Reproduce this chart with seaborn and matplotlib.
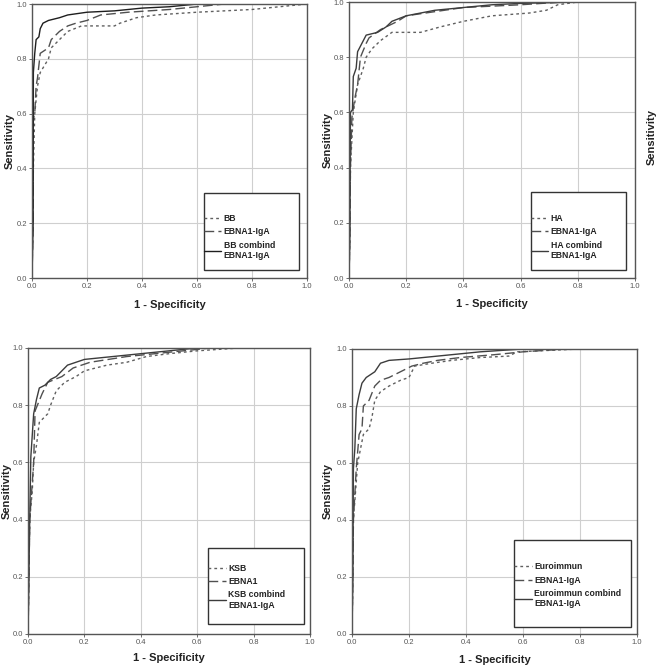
"""Quatro curvas ROC (estilo SPSS) comparando os ensaios com EBNA1-IgA."""
import numpy as np
import pandas as pd
import seaborn as sns
import matplotlib.pyplot as plt
from matplotlib.lines import Line2D
from matplotlib.patches import Rectangle

# ---- dados (1 - especificidade, sensibilidade) ----
# painel 1: BB
bb_fpr = [0, 0.003, 0.005, 0.01, 0.02, 0.03, 0.06, 0.07, 0.1, 0.13, 0.18, 0.3, 0.32, 0.38, 0.45, 0.6, 0.8, 0.9, 1.0]
bb_tpr = [0, 0.2, 0.4, 0.6, 0.7, 0.75, 0.8, 0.84, 0.87, 0.9, 0.92, 0.92, 0.93, 0.95, 0.96, 0.97, 0.98, 0.99, 1.0]
bb_ebna_fpr = [0, 0.004, 0.005, 0.01, 0.015, 0.02, 0.03, 0.06, 0.07, 0.1, 0.13, 0.16, 0.2, 0.25, 0.35, 0.5, 0.6, 0.7, 1.0]
bb_ebna_tpr = [0, 0.2, 0.58, 0.6, 0.7, 0.73, 0.82, 0.84, 0.87, 0.9, 0.92, 0.93, 0.94, 0.96, 0.97, 0.98, 0.99, 1.0, 1.0]
bb_comb_fpr = [0, 0.004, 0.005, 0.01, 0.015, 0.025, 0.03, 0.04, 0.06, 0.1, 0.13, 0.2, 0.3, 0.4, 0.5, 0.6, 1.0]
bb_comb_tpr = [0, 0.2, 0.75, 0.82, 0.87, 0.88, 0.91, 0.93, 0.94, 0.95, 0.96, 0.97, 0.975, 0.985, 0.99, 1.0, 1.0]

# painel 2: HA
ha_fpr = [0, 0.003, 0.005, 0.015, 0.03, 0.05, 0.06, 0.08, 0.11, 0.15, 0.25, 0.32, 0.4, 0.5, 0.63, 0.69, 0.73, 0.8, 1.0]
ha_tpr = [0, 0.15, 0.4, 0.6, 0.7, 0.76, 0.8, 0.83, 0.86, 0.89, 0.89, 0.91, 0.93, 0.95, 0.96, 0.97, 0.99, 1.0, 1.0]
ha_ebna_fpr = [0, 0.003, 0.005, 0.01, 0.02, 0.03, 0.035, 0.04, 0.06, 0.07, 0.11, 0.17, 0.2, 0.3, 0.4, 0.5, 0.6, 0.75, 1.0]
ha_ebna_tpr = [0, 0.15, 0.4, 0.58, 0.65, 0.7, 0.75, 0.8, 0.85, 0.87, 0.9, 0.93, 0.95, 0.965, 0.98, 0.985, 0.99, 1.0, 1.0]
ha_comb_fpr = [0, 0.003, 0.005, 0.012, 0.015, 0.025, 0.03, 0.05, 0.06, 0.1, 0.13, 0.15, 0.2, 0.25, 0.3, 0.4, 0.5, 0.6, 0.8, 1.0]
ha_comb_tpr = [0, 0.15, 0.6, 0.61, 0.73, 0.76, 0.82, 0.86, 0.88, 0.89, 0.91, 0.93, 0.95, 0.96, 0.97, 0.98, 0.99, 0.995, 1.0, 1.0]

# painel 3: KSB
ksb_fpr = [0, 0.003, 0.006, 0.015, 0.02, 0.03, 0.04, 0.07, 0.08, 0.1, 0.13, 0.17, 0.2, 0.28, 0.35, 0.42, 0.5, 0.6, 0.75, 1.0]
ksb_tpr = [0, 0.19, 0.4, 0.5, 0.6, 0.66, 0.74, 0.77, 0.8, 0.85, 0.88, 0.9, 0.92, 0.94, 0.95, 0.97, 0.98, 0.99, 1.0, 1.0]
ksb_ebna_fpr = [0, 0.003, 0.006, 0.02, 0.025, 0.05, 0.07, 0.12, 0.16, 0.22, 0.35, 0.45, 0.55, 0.65, 1.0]
ksb_ebna_tpr = [0, 0.19, 0.4, 0.6, 0.78, 0.84, 0.88, 0.9, 0.93, 0.95, 0.97, 0.98, 0.99, 1.0, 1.0]
ksb_comb_fpr = [0, 0.003, 0.006, 0.01, 0.02, 0.03, 0.04, 0.06, 0.08, 0.1, 0.12, 0.14, 0.2, 0.3, 0.4, 0.5, 0.6, 1.0]
ksb_comb_tpr = [0, 0.19, 0.4, 0.62, 0.77, 0.82, 0.86, 0.87, 0.89, 0.9, 0.92, 0.94, 0.96, 0.97, 0.98, 0.99, 1.0, 1.0]

# painel 4: Euroimmun
eu_fpr = [0, 0.003, 0.005, 0.02, 0.04, 0.06, 0.07, 0.08, 0.1, 0.13, 0.17, 0.2, 0.22, 0.28, 0.35, 0.45, 0.55, 0.58, 0.8, 0.87]
eu_tpr = [0, 0.2, 0.4, 0.6, 0.7, 0.72, 0.76, 0.82, 0.85, 0.87, 0.89, 0.9, 0.94, 0.95, 0.96, 0.97, 0.975, 0.99, 1.0, 1.0]
eu_ebna_fpr = [0, 0.003, 0.005, 0.015, 0.025, 0.035, 0.04, 0.06, 0.08, 0.1, 0.13, 0.17, 0.21, 0.25, 0.3, 0.38, 0.5, 0.6, 0.75, 0.78]
eu_ebna_tpr = [0, 0.2, 0.4, 0.58, 0.7, 0.72, 0.8, 0.82, 0.87, 0.89, 0.9, 0.92, 0.94, 0.95, 0.96, 0.97, 0.98, 0.99, 1.0, 1.0]
eu_comb_fpr = [0, 0.003, 0.005, 0.01, 0.015, 0.025, 0.035, 0.05, 0.08, 0.1, 0.13, 0.2, 0.25, 0.35, 0.45, 0.6, 0.78]
eu_comb_tpr = [0, 0.2, 0.58, 0.65, 0.79, 0.84, 0.88, 0.9, 0.92, 0.95, 0.96, 0.965, 0.97, 0.98, 0.99, 1.0, 1.0]

panels = [
    {"pos": [0.0484, 0.5832, 0.416, 0.4108], "box": (0.625, 0.03, 0.345, 0.28), "leg_y": 0.065,
     "labels": ["BB", "EBNA1-IgA", "BB combind\nEBNA1-IgA"], "solid": "#1e1e1e",
     "curves": [(bb_fpr, bb_tpr), (bb_ebna_fpr, bb_ebna_tpr), (bb_comb_fpr, bb_comb_tpr)],
     "ylab": -0.08, "xlab": -0.098},
    {"pos": [0.528, 0.5832, 0.4327, 0.4138], "box": (0.636, 0.03, 0.334, 0.28), "leg_y": 0.065,
     "labels": ["HA", "EBNA1-IgA", "HA combind\nEBNA1-IgA"], "solid": "#3c3c3c",
     "curves": [(ha_fpr, ha_tpr), (ha_ebna_fpr, ha_ebna_tpr), (ha_comb_fpr, ha_comb_tpr)],
     "ylab": -0.073, "xlab": -0.094},
    {"pos": [0.0424, 0.0495, 0.4266, 0.4288], "box": (0.64, 0.035, 0.34, 0.265), "leg_y": 0.085,
     "labels": ["KSB", "EBNA1", "KSB combind\nEBNA1-IgA"], "solid": "#3c3c3c",
     "curves": [(ksb_fpr, ksb_tpr), (ksb_ebna_fpr, ksb_ebna_tpr), (ksb_comb_fpr, ksb_comb_tpr)],
     "ylab": -0.075, "xlab": -0.084},
    {"pos": [0.5325, 0.0495, 0.4312, 0.4273], "box": (0.57, 0.025, 0.41, 0.305), "leg_y": 0.09,
     "labels": ["Euroimmun", "EBNA1-IgA", "Euroimmun combind\nEBNA1-IgA"], "solid": "#3c3c3c",
     "curves": [(eu_fpr, eu_tpr), (eu_ebna_fpr, eu_ebna_tpr), (eu_comb_fpr, eu_comb_tpr)],
     "ylab": -0.084, "xlab": -0.091},
]

sns.set_style("white")
plt.rcParams['font.family'] = ['Liberation Sans', 'DejaVu Sans']

fig = plt.figure(figsize=(6.61, 6.67), dpi=100)

estilos = [(0, (2, 2.2)), (0, (7, 3)), "-"]

for p in panels:
    ax = fig.add_axes(p["pos"])
    cores = ["#606060", "#505050", p["solid"]]
    for (fx, ty), ls, cor in zip(p["curves"], estilos, cores):
        df = pd.DataFrame({"fpr": fx, "tpr": ty})
        sns.lineplot(data=df, x="fpr", y="tpr", ax=ax, sort=False, estimator=None,
                     color=cor, linestyle=ls, linewidth=1.0)
    ax.set_xlim(0, 1)
    ax.set_ylim(0, 1)
    ticks = np.arange(0, 1.01, 0.2)
    ax.set_xticks(ticks)
    ax.set_yticks(ticks)
    ax.set_xticklabels([f"{t:.1f}" for t in ticks])
    ax.set_yticklabels([f"{t:.1f}" for t in ticks])
    ax.tick_params(labelsize=5.5, labelcolor="#555555", length=2, width=0.6,
                   color="#555555", pad=1.5, bottom=True, left=True)
    ax.grid(True, color="#cfcfcf", linewidth=0.8)
    ax.set_axisbelow(True)
    for s in ax.spines.values():
        s.set_color("#555555")
        s.set_linewidth(1.0)
    ax.set_xlabel("1 - Specificity", fontsize=8, fontweight="bold", color="#222222")
    ax.set_ylabel("Sensitivity", fontsize=8, fontweight="bold", color="#222222")
    ax.xaxis.set_label_coords(0.5, p["xlab"])
    ax.yaxis.set_label_coords(p["ylab"], 0.5)
    ax.xaxis.label.set_va("center")
    ax.yaxis.label.set_va("center")

    # caixa da legenda (estilo SPSS)
    bx, by, bw, bh = p["box"]
    ax.add_patch(Rectangle((bx, by), bw, bh, transform=ax.transAxes, fill=True,
                           facecolor="white", edgecolor="#333333", linewidth=1.0, zorder=5))
    handles = [Line2D([], [], color=c, linestyle=ls, linewidth=1.0) for c, ls in zip(cores, estilos)]
    leg = ax.legend(handles, p["labels"], loc="lower left", bbox_to_anchor=(bx, p["leg_y"]),
                    frameon=False, prop={"weight": "bold", "size": 6.2}, handlelength=2.0,
                    handletextpad=0.3, labelspacing=0.5, borderpad=0, borderaxespad=0)
    leg.set_zorder(6)
    for t in leg.get_texts():
        t.set_color("#222222")

# rótulo cortado da figura vizinha, visível na borda direita
fig.text(652 / 661, 1 - 137 / 667, "Sensitivity", rotation=90, ha="center", va="center",
         fontsize=8, fontweight="bold", color="#222222")

plt.savefig("out.png", dpi=100)
